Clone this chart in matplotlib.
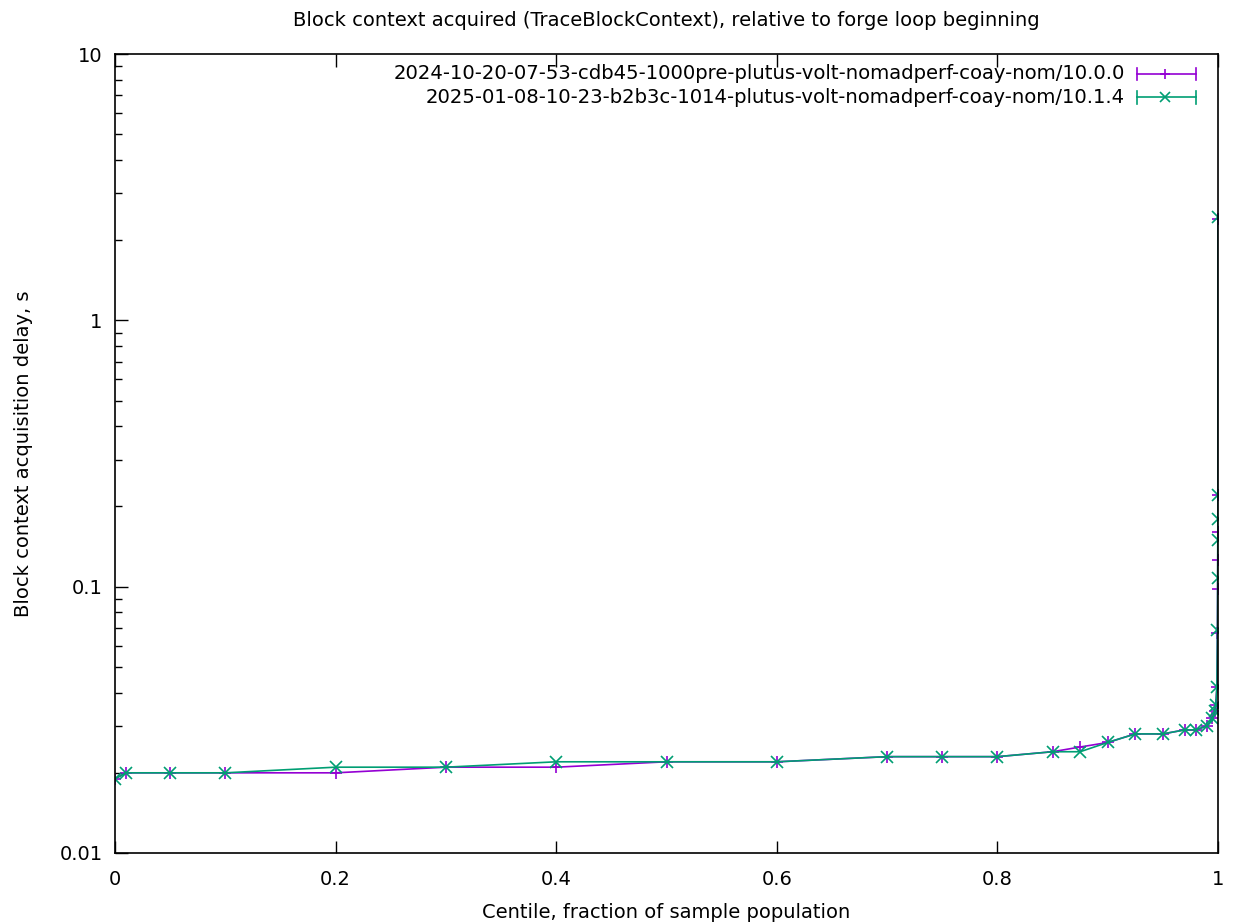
import matplotlib
matplotlib.use("Agg")
import matplotlib.pyplot as plt
from matplotlib.lines import Line2D
from matplotlib.ticker import FixedLocator, LogLocator, NullFormatter, FuncFormatter

# centile positions (x) shared by both runs
centiles = [0.0, 0.01, 0.05, 0.1, 0.2, 0.3, 0.4, 0.5, 0.6, 0.7, 0.75, 0.8,
            0.85, 0.875, 0.9, 0.925, 0.95, 0.97, 0.98, 0.99, 0.995, 0.997,
            0.998, 0.999, 0.9995, 0.9997, 0.9998, 0.9999, 0.99995, 1.0]

# block context acquisition delay, seconds
delay_10_0_0 = [0.019, 0.020, 0.020, 0.020, 0.020, 0.021, 0.021, 0.022, 0.022,
                0.023, 0.023, 0.023, 0.024, 0.025, 0.026, 0.028, 0.028, 0.029,
                0.029, 0.030, 0.032, 0.034, 0.036, 0.042, 0.067, 0.098, 0.126,
                0.160, 0.220, 2.40]
delay_10_1_4 = [0.019, 0.020, 0.020, 0.020, 0.021, 0.021, 0.022, 0.022, 0.022,
                0.023, 0.023, 0.023, 0.024, 0.024, 0.026, 0.028, 0.028, 0.029,
                0.029, 0.030, 0.032, 0.034, 0.036, 0.042, 0.069, 0.108, 0.150,
                0.180, 0.220, 2.45]

run_names = ["2024-10-20-07-53-cdb45-1000pre-plutus-volt-nomadperf-coay-nom/10.0.0",
             "2025-01-08-10-23-b2b3c-1014-plutus-volt-nomadperf-coay-nom/10.1.4"]
colors = ["#9400d3", "#009e73"]
markers = ["+", "x"]

plt.rcParams['font.family'] = ['DejaVu Sans']

fig = plt.figure(figsize=(12.37, 9.24), dpi=100)
ax = fig.add_axes([115 / 1237, 71 / 924, 1103 / 1237, 799 / 924])

for ys, c, m in zip([delay_10_0_0, delay_10_1_4], colors, markers):
    ax.plot(centiles, ys, color=c, lw=1.2, marker=m, ms=8, mew=1.2)

ax.set_yscale("log")
ax.set_xlim(0, 1)
ax.set_ylim(0.01, 10)

ax.xaxis.set_major_locator(FixedLocator([0, 0.2, 0.4, 0.6, 0.8, 1.0]))
ax.xaxis.set_major_formatter(FuncFormatter(lambda v, p: "%g" % v))
ax.yaxis.set_major_locator(FixedLocator([0.01, 0.1, 1, 10]))
ax.yaxis.set_major_formatter(FuncFormatter(lambda v, p: "%g" % v))
ax.yaxis.set_minor_locator(LogLocator(base=10, subs=range(2, 10)))
ax.yaxis.set_minor_formatter(NullFormatter())

ax.tick_params(which="both", direction="in", top=True, right=False,
               labelsize=14, width=1)
ax.tick_params(axis="x", pad=12)
ax.tick_params(axis="y", pad=9)
ax.tick_params(which="major", length=9)
ax.tick_params(which="minor", length=5)
for s in ax.spines.values():
    s.set_linewidth(1.2)

ax.set_title("Block context acquired (TraceBlockContext), relative to forge loop beginning",
             fontsize=14, pad=20)
ax.set_xlabel("Centile, fraction of sample population", fontsize=14, labelpad=10)
ax.set_ylabel("Block context acquisition delay, s", fontsize=14, labelpad=19)

# gnuplot-style key: right-aligned text, sample with end caps on the right
for i, (name, c, m) in enumerate(zip(run_names, colors, markers)):
    ypos = 0.975 - i * 0.029
    ax.text(0.9157, ypos, name, transform=ax.transAxes, ha="right", va="center",
            fontsize=14.1)
    ax.add_line(Line2D([0.9267, 0.980], [ypos, ypos], transform=ax.transAxes,
                       color=c, lw=1.2))
    for xe in (0.9267, 0.980):
        ax.add_line(Line2D([xe, xe], [ypos - 0.008, ypos + 0.008],
                           transform=ax.transAxes, color=c, lw=1.2))
    ax.add_line(Line2D([0.9524], [ypos], transform=ax.transAxes, color=c,
                       marker=m, ms=7, mew=1.2, ls="none"))

fig.savefig("out.png", dpi=100)
